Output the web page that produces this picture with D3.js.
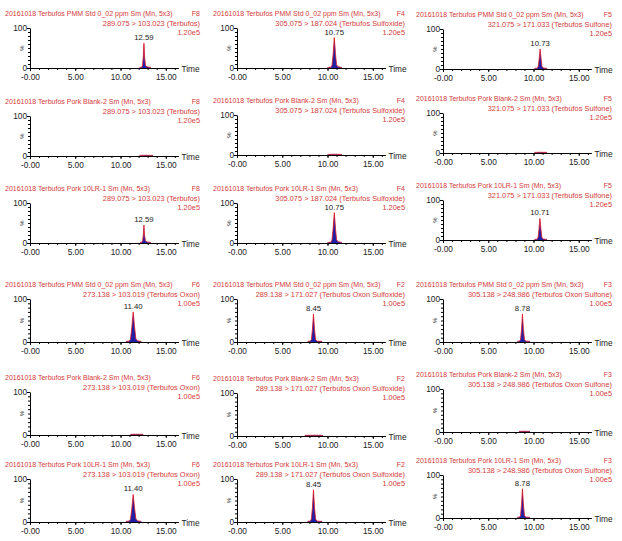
<!DOCTYPE html>
<html>
<head>
<meta charset="utf-8">
<script src="https://cdn.jsdelivr.net/npm/d3@7"></script>
<style>
    body { margin: 0; background: #ffffff; }
    svg { display: block; }
</style>
</head>
<body>
<svg id="chromatograms"></svg>
<script>
/*--------------------------------------------------------------------------------
----- DATA (samples, transitions and the traces)
--------------------------------------------------------------------------------*/

// Sample names, one per row inside each block of three rows
const sample_names = ["PMM Std 0_02 ppm", "Pork Blank-2", "Pork 10LR-1"];

// Function channels and MRM transitions, one per compound (top block then bottom block)
const channel_ids = ["F8", "F4", "F5", "F6", "F2", "F3"];
const transitions = [
    "289.075 > 103.023 (Terbufos)",
    "305.075 > 187.024 (Terbufos Sulfoxide)",
    "321.075 > 171.033 (Terbufos Sulfone)",
    "273.138 > 103.019 (Terbufos Oxon)",
    "289.138 > 171.027 (Terbufos Oxon Sulfoxide)",
    "305.138 > 248.986 (Terbufos Oxon Sulfone)"
];
const intensities = ["1.20e5", "1.20e5", "1.20e5", "1.00e5", "1.00e5", "1.00e5"];

// Retention time labels per panel row (null = no labelled peak)
const peak_times = [
    [12.59, 10.75, 10.73],
    [null, null, null],
    [12.59, 10.75, 10.71],
    [11.40, 8.45, 8.78],
    [null, null, null],
    [11.40, 8.45, 8.78]
];

// Traces per panel row, as [time (min), relative intensity (%)]
const traces = [
    [
        [[12.10, 1.5], [12.35, 2], [12.43, 6], [12.51, 26], [12.59, 62], [12.67, 25], [12.76, 6], [12.92, 3], [13.35, 1.5]],
        [[10.00, 1.5], [10.38, 2], [10.50, 7], [10.62, 34], [10.75, 76], [10.88, 36], [11.00, 8], [11.15, 3], [11.60, 1.5]],
        [[10.10, 1.5], [10.42, 2], [10.53, 7], [10.63, 26], [10.73, 50], [10.83, 27], [10.93, 7], [11.08, 2.5], [11.50, 1.5]]
    ],
    [
        [[12.10, 1.5], [12.80, 1.8], [13.60, 1.5]],
        [[10.00, 1.5], [10.80, 1.8], [11.60, 1.5]],
        [[10.10, 1.5], [10.80, 1.8], [11.50, 1.5]]
    ],
    [
        [[12.15, 1.5], [12.38, 2], [12.45, 6], [12.52, 20], [12.59, 45], [12.66, 19], [12.75, 6], [12.90, 2.5], [13.35, 1.5]],
        [[10.00, 1.5], [10.38, 2], [10.50, 8], [10.62, 36], [10.75, 76], [10.88, 37], [11.00, 9], [11.15, 3], [11.60, 1.5]],
        [[10.10, 1.5], [10.40, 2], [10.51, 7], [10.61, 28], [10.71, 54], [10.81, 29], [10.92, 7], [11.06, 2.5], [11.50, 1.5]]
    ],
    [
        [[10.60, 1.5], [10.95, 2], [11.10, 6], [11.25, 34], [11.40, 70], [11.55, 36], [11.70, 7], [11.90, 2.5], [12.30, 1.5]],
        [[7.80, 1.5], [8.10, 2], [8.22, 6], [8.34, 30], [8.45, 65], [8.56, 31], [8.68, 6], [8.85, 2], [9.40, 1.5]],
        [[8.20, 1.5], [8.45, 2], [8.57, 6], [8.68, 30], [8.78, 65], [8.88, 31], [9.00, 6], [9.15, 2], [9.60, 1.5]]
    ],
    [
        [[11.10, 1.5], [11.80, 1.8], [12.50, 1.5]],
        [[7.50, 1.5], [8.50, 1.8], [9.50, 1.5]],
        [[8.40, 1.5], [9.00, 1.8], [9.60, 1.5]]
    ],
    [
        [[10.60, 1.5], [10.95, 2], [11.10, 6], [11.25, 31], [11.40, 64], [11.55, 33], [11.70, 7], [11.90, 2.5], [12.30, 1.5]],
        [[7.80, 1.5], [8.10, 2], [8.22, 7], [8.34, 35], [8.45, 75], [8.56, 36], [8.68, 7], [8.85, 2], [9.40, 1.5]],
        [[8.20, 1.5], [8.45, 2], [8.57, 6], [8.68, 32], [8.78, 68], [8.88, 33], [9.00, 6], [9.15, 2], [9.60, 1.5]]
    ]
];

// Axis ticks and labels
const time_ticks = [0, 5, 10, 15];
const time_tick_labels = ["-0.00", "5.00", "10.00", "15.00"];
const pct_ticks = [0, 100];
const pct_tick_labels = ["0", "100"];

/*--------------------------------------------------------------------------------
----- LAYOUT (where each pasted panel sits on the page)
--------------------------------------------------------------------------------*/

const page_width = 622, page_height = 541;
const time_max = 16.4, px_per_min = 9.05;

// x of time 0 and the right edge of the header text, per column
const col_x0 = [30, 237, 443];
const col_right = [200, 405, 612];
const col_title_left = [5, 213, 416];

// y of the 0% baseline per row and column, and the height of 100%
const row_base = [
    [68, 68, 69],
    [156, 155, 153],
    [243, 243, 240],
    [342, 342, 342],
    [435, 436, 432],
    [522, 522, 518]
];
const row_height = [40, 40, 40, 43, 43, 43];

const title_color = "#d43a3a";
const trace_color = "#e0141e";
const fill_color = "#1f1fa8";
const font = "'Liberation Sans', Arial, sans-serif";

// Create the page container
const svg = d3.select('#chromatograms')
    .attr('width', page_width)
    .attr('height', page_height)
    .style('font-family', font);

// Draw every panel of the 6x3 grid
for (let r = 0; r < 6; r++) {
    for (let c = 0; c < 3; c++) {
        const compound = Math.floor(r / 3) * 3 + c;
        const sample = sample_names[r % 3];
        const base = row_base[r][c];
        const h = row_height[r];
        const big = r >= 3 ? 3 : 0;

        // Scales of this panel
        const x = d3.scaleLinear()
            .domain([0, time_max])
            .range([col_x0[c], col_x0[c] + time_max * px_per_min]);
        const y = d3.scaleLinear()
            .domain([0, 100])
            .range([base, base - h]);

        const panel = svg.append('g').attr('class', 'panel');

        // Header: sample line, channel, transition and full scale intensity
        panel.append('text')
            .attr('x', col_title_left[c])
            .attr('y', base - 52 - big)
            .attr('fill', title_color)
            .style('font-size', '7px')
            .text('20161018 Terbufos ' + sample + ' Sm (Mn, 5x3)');
        panel.append('text')
            .attr('x', col_right[c])
            .attr('y', base - 52 - big)
            .attr('fill', title_color)
            .attr('text-anchor', 'end')
            .style('font-size', '7px')
            .text(channel_ids[compound]);
        panel.append('text')
            .attr('x', col_right[c])
            .attr('y', base - 42 - big)
            .attr('fill', title_color)
            .attr('text-anchor', 'end')
            .style('font-size', '7.4px')
            .text(transitions[compound]);
        panel.append('text')
            .attr('x', col_right[c])
            .attr('y', base - 33 - big)
            .attr('fill', title_color)
            .attr('text-anchor', 'end')
            .style('font-size', '7.4px')
            .text(intensities[compound]);

        // Trace: blue filled area with the red outline on top
        const trace = traces[r][c];
        panel.append('path')
            .datum(trace)
            .attr('fill', fill_color)
            .attr('d', d3.area().x(d => x(d[0])).y0(y(0)).y1(d => y(d[1])));
        panel.append('path')
            .datum(trace)
            .attr('fill', 'none')
            .attr('stroke', trace_color)
            .attr('stroke-width', 0.8)
            .attr('d', d3.line().x(d => x(d[0])).y(d => y(d[1])));

        // Minor ticks on both axes
        panel.append('g')
            .attr('transform', 'translate(0,' + base + ')')
            .call(d3.axisBottom(x).tickValues(d3.range(0, 16.5, 1)).tickSize(2).tickSizeOuter(0).tickFormat(''))
            .call(g => g.select('.domain').remove());
        panel.append('g')
            .attr('transform', 'translate(' + col_x0[c] + ',0)')
            .call(d3.axisLeft(y).tickValues(d3.range(0, 101, 10)).tickSize(2).tickSizeOuter(0).tickFormat(''))
            .call(g => g.select('.domain').remove());

        // Major x axis with the time labels
        const x_axis = panel.append('g')
            .attr('transform', 'translate(0,' + base + ')')
            .call(d3.axisBottom(x)
                .tickValues(time_ticks)
                .tickFormat((d, i) => time_tick_labels[i])
                .tickSize(3)
                .tickSizeOuter(0)
                .tickPadding(3));
        x_axis.selectAll('text')
            .style('font-family', font)
            .style('font-size', '8.3px')
            .attr('fill', '#222');

        // Major y axis with 0 and 100
        const y_axis = panel.append('g')
            .attr('transform', 'translate(' + col_x0[c] + ',0)')
            .call(d3.axisLeft(y)
                .tickValues(pct_ticks)
                .tickFormat((d, i) => pct_tick_labels[i])
                .tickSize(3)
                .tickSizeOuter(0)
                .tickPadding(0));
        y_axis.selectAll('text')
            .style('font-family', font)
            .style('font-size', '8.3px')
            .attr('fill', '#222');

        // Axis captions
        panel.append('text')
            .attr('x', x(time_max) + 3)
            .attr('y', base + 4)
            .attr('fill', '#222')
            .style('font-size', '8.3px')
            .text('Time');
        panel.append('text')
            .attr('transform', 'translate(' + (col_x0[c] - 6) + ',' + y(50) + ') rotate(-90)')
            .attr('text-anchor', 'middle')
            .attr('fill', '#222')
            .style('font-size', '6px')
            .text('%');

        // Retention time label above the peak
        const rt = peak_times[r][c];
        if (rt !== null) {
            const top = d3.max(trace, d => d[1]);
            panel.append('text')
                .attr('x', x(rt))
                .attr('y', y(top) - 3)
                .attr('text-anchor', 'middle')
                .attr('fill', '#222')
                .style('font-size', '7.8px')
                .text(rt.toFixed(2));
        }
    }
}
</script>
</body>
</html>
